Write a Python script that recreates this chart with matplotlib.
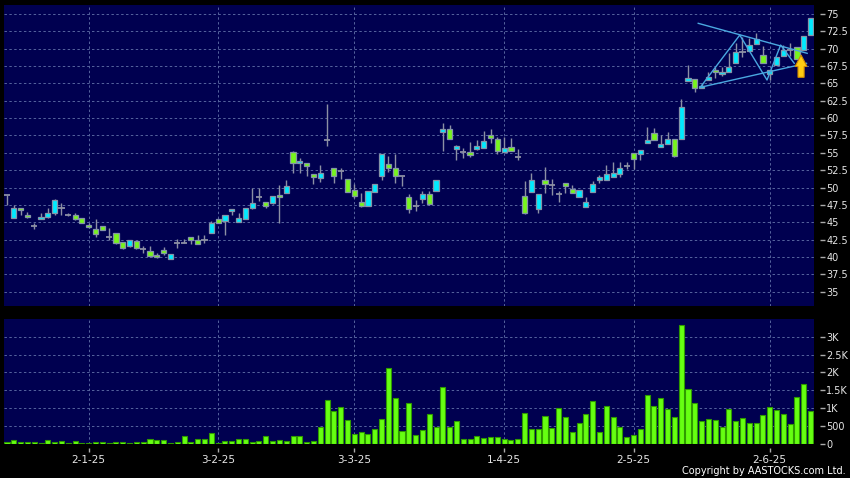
import numpy as np
import matplotlib
matplotlib.use("Agg")
import matplotlib.pyplot as plt
from matplotlib.patches import FancyArrow

# daily candles, one per trading day (index 0 = first bar)
opens = [48.9, 45.55, 47.0, 46.1, 44.5, 45.4, 45.7, 46.3, 47.1, 46.1,
         46.1, 45.55, 44.6, 44.05, 44.45, 42.9, 43.4, 42.15, 41.6, 42.3,
         41.15, 40.85, 40.3, 41.0, 39.75, 42.05, 42.05, 42.8, 42.45, 42.45,
         43.5, 45.4, 45.2, 46.55, 45.05, 45.5, 47.1, 48.6, 47.95, 47.8,
         48.9, 49.15, 55.1, 53.5, 53.6, 51.9, 51.4, 56.85, 52.75, 52.4,
         51.3, 49.6, 47.85, 47.4, 49.4, 51.7, 53.35, 52.85, 51.65, 48.6,
         47.4, 48.35, 49.0, 49.55, 58.05, 58.5, 55.5, 55.05, 55.05, 55.6,
         55.75, 57.55, 56.95, 55.15, 55.8, 54.45, 48.8, 49.4, 46.85, 51.1,
         50.35, 49.05, 50.6, 49.85, 48.6, 47.25, 49.4, 51.1, 51.15, 51.55,
         51.9, 53.15, 55.0, 54.8, 56.35, 57.9, 55.8, 56.25, 56.95, 56.95,
         65.35, 65.6, 64.3, 65.5, 66.95, 66.35, 66.6, 67.9, 69.5, 69.7,
         70.65, 69.1, 66.35, 67.65, 69.0, 69.8, 70.3, 69.8, 71.95]
highs = [48.9, 47.5, 47.0, 46.5, 44.95, 46.3, 47.0, 48.3, 47.7, 46.3,
         46.3, 45.6, 44.95, 45.4, 44.5, 44.1, 43.5, 42.2, 42.5, 42.35,
         41.6, 41.6, 40.6, 41.5, 40.4, 42.55, 42.6, 42.9, 43.1, 43.2,
         45.2, 45.5, 46.0, 46.9, 46.3, 47.0, 50.0, 49.9, 47.95, 48.8,
         50.35, 51.1, 55.3, 54.3, 53.6, 51.9, 53.25, 62.05, 52.75, 52.85,
         51.3, 50.45, 49.2, 49.5, 50.45, 54.9, 54.55, 54.9, 51.65, 49.05,
         48.2, 49.5, 49.5, 51.15, 59.25, 59.0, 56.1, 55.65, 56.6, 56.85,
         58.15, 58.4, 57.3, 57.3, 57.1, 55.5, 51.0, 52.1, 49.0, 53.0,
         51.3, 49.55, 50.65, 50.35, 49.7, 48.6, 50.95, 51.8, 53.25, 53.7,
         53.7, 53.7, 55.0, 55.4, 58.75, 58.55, 57.6, 58.0, 56.95, 62.7,
         67.65, 65.6, 65.0, 66.7, 67.4, 67.4, 69.4, 70.8, 71.7, 71.5,
         72.2, 70.4, 66.95, 68.85, 70.5, 70.8, 70.3, 71.85, 74.4]
lows = [47.5, 45.55, 46.0, 45.6, 44.0, 45.4, 45.6, 46.0, 46.0, 45.9,
        45.3, 44.9, 44.1, 42.8, 43.95, 42.5, 41.9, 41.2, 41.5, 41.2,
        40.5, 40.0, 39.9, 40.3, 39.75, 41.25, 42.0, 41.9, 41.85, 42.0,
        43.5, 44.9, 43.2, 46.0, 45.0, 45.5, 46.85, 48.0, 47.0, 47.6,
        44.95, 49.15, 52.1, 52.1, 51.65, 50.5, 50.8, 55.95, 50.6, 51.2,
        49.4, 48.45, 47.25, 47.4, 49.4, 51.1, 52.3, 50.6, 50.2, 46.35,
        46.6, 47.8, 47.5, 49.55, 55.3, 56.95, 53.95, 54.2, 54.45, 55.4,
        55.75, 56.35, 54.9, 55.15, 55.3, 53.95, 46.2, 49.4, 46.3, 49.25,
        48.9, 47.95, 49.15, 49.15, 48.6, 47.25, 49.4, 50.6, 51.15, 51.55,
        51.5, 52.6, 52.6, 54.0, 56.35, 56.85, 55.8, 56.25, 54.4, 56.95,
        65.35, 63.7, 64.3, 65.5, 65.75, 66.0, 66.6, 67.9, 68.85, 69.7,
        70.65, 67.9, 65.5, 67.65, 69.0, 68.9, 68.5, 69.8, 71.95]
closes = [48.9, 47.0, 46.7, 45.8, 44.5, 45.7, 46.4, 48.2, 47.1, 46.1,
          45.5, 44.95, 44.25, 43.25, 43.95, 42.9, 42.05, 41.3, 42.45, 41.3,
          41.15, 40.2, 39.95, 40.5, 40.4, 42.05, 42.05, 42.45, 41.85, 42.45,
          44.95, 44.95, 46.0, 46.9, 45.55, 47.0, 47.8, 48.6, 47.4, 48.8,
          48.6, 50.25, 53.5, 53.8, 53.15, 51.45, 52.05, 56.85, 51.7, 52.4,
          49.4, 48.8, 47.4, 49.5, 50.45, 54.9, 52.75, 51.7, 51.65, 46.85,
          47.4, 49.0, 47.6, 51.15, 58.5, 56.95, 55.95, 55.05, 54.7, 55.95,
          56.75, 57.2, 55.3, 55.65, 55.3, 54.45, 46.3, 51.1, 49.0, 50.45,
          50.35, 49.05, 50.2, 49.15, 49.7, 47.85, 50.45, 51.45, 51.95, 52.05,
          52.75, 53.15, 54.05, 55.4, 56.85, 56.85, 56.25, 56.95, 54.55, 61.55,
          65.75, 64.3, 64.65, 65.9, 66.6, 66.7, 67.3, 69.5, 69.5, 70.5,
          71.4, 67.9, 66.95, 68.85, 69.8, 69.8, 68.5, 71.85, 74.4]
volumes = [56, 103, 40, 40, 60, 20, 94, 56, 75, 15,
           65, 15, 10, 37, 37, 15, 37, 37, 15, 56,
           56, 122, 94, 94, 19, 56, 224, 47, 122, 131,
           309, 10, 75, 75, 122, 122, 56, 75, 215, 75,
           103, 75, 206, 206, 37, 65, 458, 1225, 926, 1038,
           664, 271, 336, 271, 402, 683, 2113, 1276, 355, 1131,
           243, 383, 823, 458, 1599, 477, 636, 122, 122, 224,
           150, 196, 196, 131, 94, 131, 870, 411, 411, 785,
           449, 1010, 739, 327, 589, 832, 1206, 318, 1047, 739,
           458, 196, 234, 421, 1356, 1047, 1290, 972, 748, 3319,
           1524, 1150, 645, 683, 673, 477, 972, 636, 729, 589,
           570, 813, 1038, 944, 832, 552, 1300, 1664, 916]

date_labels = ["2-1-25", "3-2-25", "3-3-25", "1-4-25", "2-5-25", "2-6-25"]
date_idx = [12, 31, 51, 73, 92, 112]

price_ticks = [35, 37.5, 40, 42.5, 45, 47.5, 50, 52.5, 55, 57.5, 60, 62.5, 65, 67.5, 70, 72.5, 75]
vol_ticks = [0, 500, 1000, 1500, 2000, 2500, 3000]
vol_labels = ["0", "500", "1K", "1.5K", "2K", "2.5K", "3K"]

# drawn pattern (triangle + zigzag) and the arrow
upper_x, upper_y = [101.5, 117.5], [73.66, 69.34]
lower_x, lower_y = [101.8, 117.4], [64.44, 67.90]
zig_x = [101.8, 107.6, 111.6, 113.6, 115.6]
zig_y = [64.44, 71.97, 65.49, 70.53, 67.90]
arrow_x, arrow_base, arrow_tip = 116.6, 65.88, 69.09

NAVY = "#000050"
GRID = "#56649e"
UP = "#00eaff"
DOWN = "#77f51c"
WICK = "#8c90a4"
TXT = "#e6e6e6"

o = np.array(opens); h = np.array(highs); l = np.array(lows); c = np.array(closes)
x = np.arange(len(o))

fig = plt.figure(figsize=(8.5, 4.78), dpi=100, facecolor="black")
ax = fig.add_axes([4/850, 1-306/478, 810/850, 301/478], facecolor=NAVY)
axv = fig.add_axes([4/850, 1-443.7/478, 810/850, 124.7/478], facecolor=NAVY, sharex=ax)

# wicks
ax.vlines(x, l, h, color=WICK, lw=1, zorder=2)
doji = np.abs(c - o) < 0.05
body = ~doji
cols = np.where(c >= o, UP, DOWN)
ax.bar(x[body], np.abs(c - o)[body], bottom=np.minimum(o, c)[body], width=0.76,
       color=cols[body], edgecolor="#8494a8", linewidth=0.9, zorder=3)
ax.hlines(o[doji], x[doji] - 0.45, x[doji] + 0.45, color=WICK, lw=1.3, zorder=3)

ax.plot(upper_x, upper_y, color="#4aa8e0", lw=1, zorder=4)
ax.plot(lower_x, lower_y, color="#4aa8e0", lw=1, zorder=4)
ax.plot(zig_x, zig_y, color="#4aa8e0", lw=1, zorder=4)
ax.add_patch(FancyArrow(arrow_x, arrow_base, 0, arrow_tip - arrow_base, width=0.9,
                        head_width=1.75, head_length=1.65, length_includes_head=True,
                        fc="#ffcc11", ec="#d08a00", lw=0.8, zorder=5))

axv.bar(x, volumes, width=0.74, color="#66ff11", edgecolor="#2f9a00", linewidth=0.8, zorder=3)

ax.set_xlim(-0.44, 118.5)
ax.set_ylim(32.93, 76.3)
axv.set_ylim(0, 3496)

for a in (ax, axv):
    for s in a.spines.values():
        s.set_visible(False)
    a.spines["right"].set_position(("outward", 4))
    a.spines["bottom"].set_position(("outward", 3))
    a.yaxis.tick_right()
    a.tick_params(axis="y", length=3.5, width=1, color="#aaaaaa", pad=1.2,
                  labelcolor=TXT, labelsize=7)
    a.grid(True, color=GRID, ls=(0, (2.5, 2.5)), lw=0.7, zorder=1)
    a.set_axisbelow(True)

ax.set_yticks(price_ticks)
ax.set_yticklabels([f"{t:g}" for t in price_ticks])
axv.set_yticks(vol_ticks)
axv.set_yticklabels(vol_labels)

axv.set_xticks(date_idx)
axv.set_xticklabels(date_labels)
ax.tick_params(axis="x", length=0, labelbottom=False)
axv.tick_params(axis="x", length=3, width=1, color="#aaaaaa", pad=2,
                labelcolor=TXT, labelsize=7.5)

fig.text(846/850, 1-474/478, "Copyright by AASTOCKS.com Ltd.", ha="right", va="baseline",
         fontsize=7, color="white")

fig.savefig("out.png", dpi=100, facecolor="black")
